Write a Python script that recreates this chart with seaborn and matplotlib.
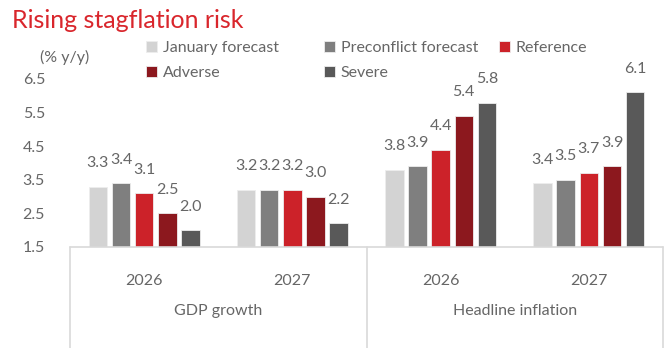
import matplotlib
matplotlib.use("Agg")
import matplotlib.pyplot as plt
import seaborn as sns
import pandas as pd

categories = ["GDP 2026", "GDP 2027", "Infl 2026", "Infl 2027"]
years = ["2026", "2027", "2026", "2027"]
groups = ["GDP growth", "Headline inflation"]
series = ["January forecast", "Preconflict forecast", "Reference", "Adverse", "Severe"]
january = [3.3, 3.2, 3.8, 3.4]
preconflict = [3.4, 3.2, 3.9, 3.5]
reference = [3.1, 3.2, 4.4, 3.7]
adverse = [2.5, 3.0, 5.4, 3.9]
severe = [2.0, 2.2, 5.8, 6.1]
yticks = [1.5, 2.5, 3.5, 4.5, 5.5, 6.5]
colors = ["#D3D3D3", "#7F7F7F", "#CC2229", "#8C181E", "#595959"]

rows = []
for s, vals in zip(series, [january, preconflict, reference, adverse, severe]):
    for c, v in zip(categories, vals):
        rows.append({"cat": c, "series": s, "value": v})
df = pd.DataFrame(rows)

sns.set_theme(style="white")
FONT = ["Lato", "DejaVu Sans"]
plt.rcParams["font.family"] = FONT
GRAY = "#666666"
FS = 11.5
W = "normal"

fig = plt.figure(figsize=(6.72, 3.48), dpi=100)
ax = fig.add_axes([70 / 672, 1 - 247 / 348, (663 - 70) / 672, 168 / 348])

sns.barplot(data=df, x="cat", y="value", hue="series", hue_order=series,
            order=categories, palette=colors, saturation=1, width=0.78, gap=0.2,
            edgecolor="#EDEDED", linewidth=0.6, ax=ax, legend=True)

ax.set_ylim(1.5, 6.5)
ax.set_xlim(-0.5, 3.5)
ax.set_yticks(yticks)
ax.set_yticklabels([f"{t:.1f}" for t in yticks], color=GRAY, fontsize=FS, fontweight=W)
ax.tick_params(axis="y", length=0, pad=18)
ax.set_xticks([])
ax.set_xlabel("")
ax.set_ylabel("")
for sp in ax.spines.values():
    sp.set_visible(False)

# value labels
for cont in ax.containers:
    for bar in cont:
        h = bar.get_height()
        ax.annotate(f"{h:.1f}", (bar.get_x() + bar.get_width() / 2, h),
                    xytext=(0, 17), textcoords="offset points",
                    ha="center", va="center", color=GRAY, fontsize=FS, fontweight=W)

# category box
line_c = "#D9D9D9"
ax.plot([-0.5, 3.5], [1.5, 1.5], color=line_c, lw=1.2, clip_on=False)
trans = ax.get_xaxis_transform()
for xv in [-0.5, 1.5, 3.5]:
    ax.plot([xv, xv], [0, -0.62], color=line_c, lw=1.2, clip_on=False, transform=trans)
for i, y in enumerate(years):
    ax.text(i, -0.205, y, transform=trans, ha="center", va="center", color=GRAY,
            fontsize=FS, fontweight=W)
for i, g in enumerate(groups):
    ax.text(0.5 + 2 * i, -0.38, g, transform=trans, ha="center", va="center", color=GRAY,
            fontsize=FS, fontweight=W)

# legend (manual columns from seaborn handles)
handles, labels = ax.get_legend_handles_labels()
ax.get_legend().remove()
hmap = dict(zip(labels, handles))
cols = [(["January forecast", "Adverse"], 146), (["Preconflict forecast", "Severe"], 324), (["Reference"], 499)]
for names, xpx in cols:
    lg = fig.legend([hmap[n] for n in names], names, loc="upper left",
                    bbox_to_anchor=(xpx / 672, 1 - 41 / 348), frameon=False,
                    prop={"size": FS, "weight": W}, handlelength=0.7, handleheight=0.7,
                    handletextpad=0.35, labelspacing=0.65, borderpad=0, borderaxespad=0)
    for t in lg.get_texts():
        t.set_color(GRAY)

fig.text(40 / 672, 1 - 57 / 348, "(% y/y)", ha="left", va="center", color=GRAY,
         fontsize=FS, fontweight=W)
fig.text(12 / 672, 1 - 20 / 348, "Rising stagflation risk", ha="left", va="center",
         color="#D9262C", fontsize=18, fontweight=W)

fig.savefig("out.png", dpi=100)
